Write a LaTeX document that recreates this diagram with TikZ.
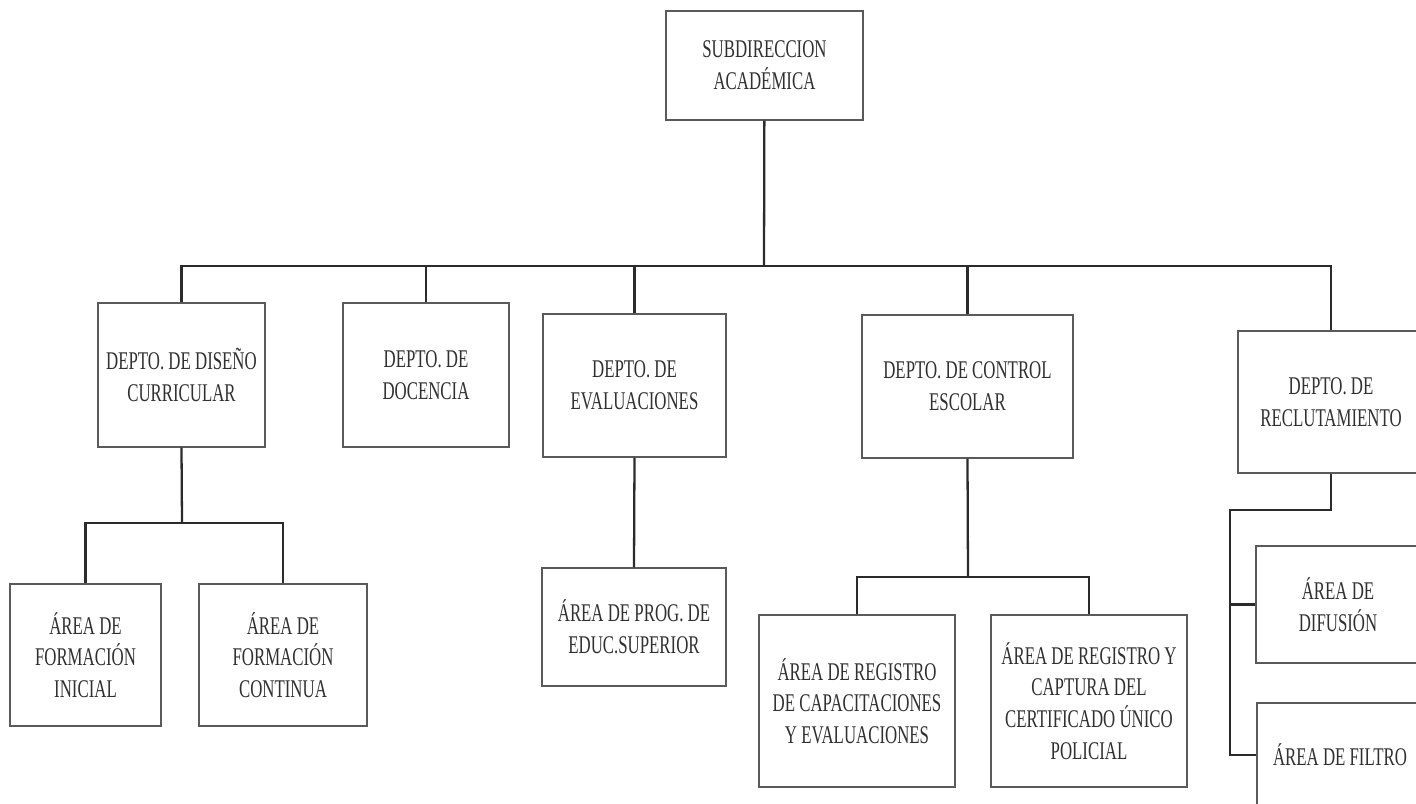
\documentclass[tikz,border=0pt]{standalone}
\usepackage{fontspec}
\setmainfont[FakeStretch=0.66]{Liberation Serif}
\usepackage{xcolor}
\definecolor{linea}{HTML}{2b2b2b}
\definecolor{borde}{HTML}{5a5a5a}
\definecolor{letra}{HTML}{303030}

\begin{document}
\begin{tikzpicture}[x=0.2mm, y=-0.2mm]

      % Page frame (pixel units, y downwards)
      \useasboundingbox (0,0) rectangle (1416,804);

      \tikzset{
            caja/.style 2 args = {draw=borde, line width=0.6pt, text=letra, align=center,
                  inner sep=0pt, minimum width=#1*0.2mm, minimum height=#2*0.2mm,
                  font=\fontsize{14.5}{18}\selectfont},
            enlace/.style = {draw=linea, line width=1.3pt}
      };

      % Top box
      \node[caja={197}{109}] (sub) at (764.5,65.5) {SUBDIRECCION\\ACADÉMICA};

      % Departments
      \node[caja={167}{144}] (diseno)   at (181.5,375)  {DEPTO. DE DISEÑO\\CURRICULAR};
      \node[caja={166}{144}] (docencia) at (426,375)    {DEPTO. DE\\DOCENCIA};
      \node[caja={183}{143}] (evaluac)  at (634.5,385.5) {DEPTO. DE\\EVALUACIONES};
      \node[caja={211}{143}] (control)  at (967.5,386.5) {DEPTO. DE CONTROL\\ESCOLAR};
      \node[caja={186}{142}] (reclut)   at (1331,402)   {DEPTO. DE\\RECLUTAMIENTO};

      % Areas
      \node[caja={151}{142}] (inicial)  at (85.5,655)   {ÁREA DE\\FORMACIÓN\\INICIAL};
      \node[caja={168}{142}] (continua) at (283,655)    {ÁREA DE\\FORMACIÓN\\CONTINUA};
      \node[caja={184}{118}] (prog)     at (634,627)    {ÁREA DE PROG. DE\\EDUC.SUPERIOR};
      \node[caja={196}{172}] (capacit)  at (857,701)    {ÁREA DE REGISTRO\\DE CAPACITACIONES\\Y EVALUACIONES};
      \node[caja={196}{172}] (certif)   at (1089,701)   {ÁREA DE REGISTRO Y\\CAPTURA DEL\\CERTIFICADO ÚNICO\\POLICIAL};
      \node[caja={164}{117}] (difusion) at (1338,604.5) {ÁREA DE\\DIFUSIÓN};
      \node[caja={166}{104}] (filtro)   at (1340,755)   {ÁREA DE FILTRO};

      % Branch points
      \coordinate (bus) at (764,266);
      \coordinate (b1)  at (182,523);
      \coordinate (b2)  at (968,577);
      \coordinate (b3)  at (1230,510);

      % Main bus
      \draw[enlace] (sub) -- (bus);
      \draw[enlace] (diseno.north) |- (bus) -| (reclut.north);
      \foreach \n in {docencia, evaluac, control} {
            \draw[enlace] (\n.north) -- (\n.north |- bus);
      }

      % Second level
      \draw[enlace] (diseno.south) -- (b1);
      \draw[enlace] (inicial.north) |- (b1) -| (continua.north);
      \draw[enlace] (evaluac.south) -- (prog.north);
      \draw[enlace] (control.south) -- (b2);
      \draw[enlace] (capacit.north) |- (b2) -| (certif.north);
      \draw[enlace] (reclut.south) |- (b3) |- (filtro.west);
      \draw[enlace] (b3 |- difusion.west) -- (difusion.west);

\end{tikzpicture}
\end{document}
